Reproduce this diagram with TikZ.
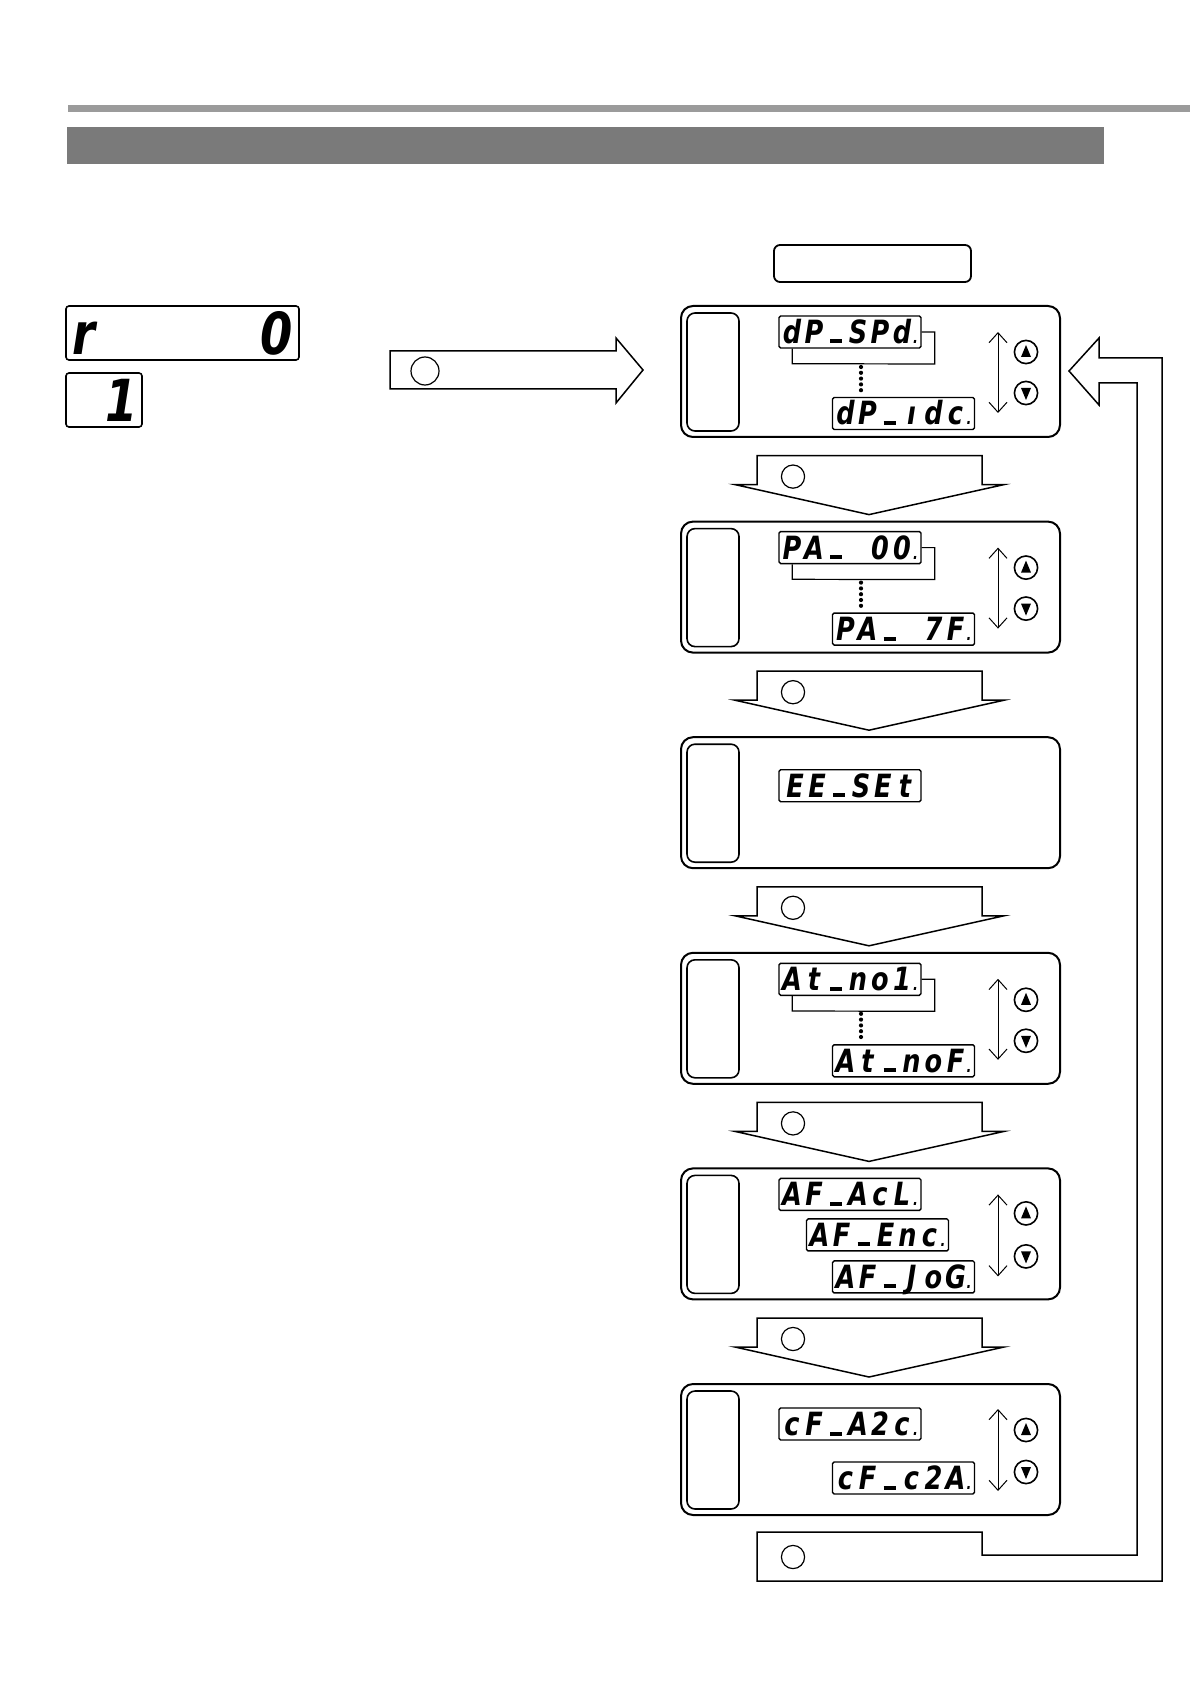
\documentclass[tikz,border=0pt]{standalone}
\usepackage{fontspec}
\newfontfamily\segfont{DejaVu Sans}[FakeStretch=0.8]
\usetikzlibrary{arrows.meta,calc}
\makeatletter
\newcommand\segs[1]{\@tfor\sgc:=#1\do{\makebox[11pt][c]{\sgc}}}
\makeatother
\newcommand\us{\rule{6pt}{2pt}}
\newcommand\dotp{\makebox[3pt][l]{\fontsize{8pt}{8pt}\selectfont.}}
\definecolor{rulegray}{HTML}{9B9B9B}
\definecolor{bargray}{HTML}{7A7A7A}
\tikzset{
  panel/.style={draw, line width=1pt, rounded corners=6pt, minimum width=189.5pt, minimum height=65.5pt, inner sep=0pt},
  lamp/.style={draw, line width=0.8pt, rounded corners=4pt, minimum width=26pt, minimum height=59pt, inner sep=0pt},
  disp/.style={draw, line width=0.7pt, rounded corners=0.8pt, minimum width=71pt, minimum height=16pt, inner sep=0pt,
    text height=11.5pt, text depth=0pt, font={\segfont\bfseries\itshape\fontsize{16pt}{16pt}\selectfont}},
  bigdisp/.style={draw, line width=0.8pt, rounded corners=1.5pt, inner sep=0pt,
    font={\segfont\bfseries\itshape\fontsize{29pt}{29pt}\selectfont}},
  btn/.style={draw, circle, line width=0.8pt, minimum size=11.6pt, inner sep=0pt},
  ring/.style={draw, circle, line width=0.6pt, inner sep=0pt},
  blk/.style={draw, line width=0.75pt, fill=white, line join=miter},
  dbl/.style={line width=0.5pt, {Straight Barb[length=5pt,width=9pt]}-{Straight Barb[length=5pt,width=9pt]}},
  brk/.style={line width=0.6pt},
}
\begin{document}
\begin{tikzpicture}[x=0.5pt,y=-0.5pt]
\useasboundingbox (0,0) rectangle (1190,1684);
% header
\fill[rulegray] (68,105) rectangle (1190,112);
\fill[bargray] (67,127) rectangle (1104,164);
\node[draw, line width=0.9pt, rounded corners=3pt, minimum width=98.5pt, minimum height=18.5pt, inner sep=0pt] (title) at (872.5,263.5) {};

% left displays
\node[bigdisp, minimum width=116.5pt, minimum height=27pt] (r0) at (182.5,333) {\makebox[110pt]{r\hfill 0}};
\node[bigdisp, minimum width=38pt, minimum height=27pt] (one) at (104,400) {\makebox[34pt][r]{1}};

% entry arrow
\draw[blk] (390,351) -- (616,351) -- (616,338) -- (643,370) -- (616,403) -- (616,389) -- (390,389) -- cycle;
\node[ring, minimum size=14pt] (cin) at (425,371) {};

% panels
\foreach \i/\t in {1/306,2/521.6,3/737.2,4/952.8,5/1168.4,6/1384}{
  \node[panel] (p\i) at (870.5,\t+65.5) {};
  \node[lamp] (l\i) at (713,\t+66) {};
}
% buttons and double arrows
\foreach \i/\t/\a/\b/\u/\v in {1/306/26/107/46/87,2/521.6/26/107/46/87,4/952.8/26/107/47/88,5/1168.4/26/108/45/88,6/1384/25/107/46/88}{
  \draw[dbl] (998,\t+\a) -- (998,\t+\b);
  \node[btn] (u\i) at (1026,\t+\u) {};
  \node[btn] (w\i) at (1026,\t+\v) {};
  \fill[shift={(u\i.center)}] (0,-7) -- (5,5) -- (-5,5) -- cycle;
  \fill[shift={(w\i.center)}] (0,7) -- (5,-5) -- (-5,-5) -- cycle;
}
% down arrows between panels
\foreach \i/\T in {1/521.6,2/737.2,3/952.8,4/1168.4,5/1384}{
  \draw[blk] (757,\T-66) -- (982,\T-66) -- (982,\T-37) -- (1004,\T-37) -- (869,\T-7) -- (735,\T-37) -- (757,\T-37) -- cycle;
  \node[ring, minimum size=11.6pt] (c\i) at (793,\T-45) {};
}

% panel 1
\node[disp] (d1a) at (850,306+26) {\segs{dP\us SPd}\dotp};
\node[disp] (d1b) at (903.5,306+107.5) {\segs{dP\us ıdc}\dotp};
% panel 2
\node[disp] (d2a) at (850,521.6+26) {\segs{PA\us~00}\dotp};
\node[disp] (d2b) at (903.5,521.6+107.5) {\segs{PA\us~7F}\dotp};
% panel 3
\node[disp] (d3a) at (850,737.2+48.5) {\segs{EE\us SEt}\hspace{3pt}};
% panel 4
\node[disp] (d4a) at (850,952.8+26.5) {\segs{At\us no1}\dotp};
\node[disp] (d4b) at (903.5,952.8+108) {\segs{At\us noF}\dotp};
% panel 5
\node[disp] (d5a) at (850,1168.4+26) {\segs{AF\us AcL}\dotp};
\node[disp] (d5b) at (877.5,1168.4+66.5) {\segs{AF\us Enc}\dotp};
\node[disp] (d5c) at (903.5,1168.4+108.5) {\segs{AF\us JoG}\dotp};
% panel 6
\node[disp] (d6a) at (850,1384+40) {\segs{cF\us A2c}\dotp};
\node[disp] (d6b) at (903.5,1384+94) {\segs{cF\us c2A}\dotp};

% brackets and dots
\foreach \i/\t in {1/306,2/521.6,4/952.8}{
  \draw[brk] (d\i a.east) -- ++(13,0) -- ++(0,32) -- ($(d\i a.south west)+(14,15)$) -- ($(d\i a.south west)+(14,0)$);
  \foreach \k in {0,...,4}{ \fill (861,\t+61+5.8*\k) circle (2.1); }
}

% return path
\draw[blk] (757,1532) -- (982,1532) -- (982,1555) -- (1137,1555) -- (1137,383) -- (1099,383) -- (1099,405)
  -- (1069,371) -- (1099,338) -- (1099,358) -- (1162,358) -- (1162,1581) -- (757,1581) -- cycle;
\node[ring, minimum size=11.6pt] (cret) at (793,1557) {};
\end{tikzpicture}
\end{document}
